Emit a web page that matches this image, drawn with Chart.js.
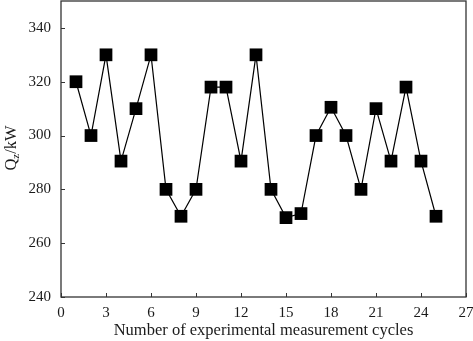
<!DOCTYPE html>
<html>
<head>
<meta charset="utf-8">
<script src="https://cdn.jsdelivr.net/npm/chart.js@4/dist/chart.umd.min.js"></script>
<style>
  html, body { margin: 0; padding: 0; background: #fff; }
  #wrap { width: 473px; height: 341px; }
</style>
</head>
<body>
<div id="wrap"><canvas id="c" width="473" height="341"></canvas></div>
<script>
// donnees
const cycles = [1, 2, 3, 4, 5, 6, 7, 8, 9, 10, 11, 12, 13, 14, 15, 16, 17, 18, 19, 20, 21, 22, 23, 24, 25]
const qz = [320, 300, 330, 290.5, 310, 330, 280, 270, 280, 318, 318, 290.5, 330, 280, 269.5, 271, 300, 310.5, 300, 280, 310, 290.5, 318, 290.5, 270]
const xTicks = [0, 3, 6, 9, 12, 15, 18, 21, 24, 27]
const yTicks = [240, 260, 280, 300, 320, 340]

const serif = "'Liberation Serif', 'DejaVu Serif', serif"
const ink = '#1a1a1a'

// cadre + petites graduations vers l'interieur + titre Y avec indice
const framePlugin = {
  id: 'frame',
  afterDraw(chart) {
    const { ctx, chartArea: a, scales } = chart
    ctx.save()
    ctx.strokeStyle = '#333'
    ctx.lineWidth = 1.3
    ctx.strokeRect(a.left, a.top, a.right - a.left, a.bottom - a.top)
    ctx.lineWidth = 1
    ctx.beginPath()
    xTicks.forEach(v => {
      const px = Math.round(scales.x.getPixelForValue(v)) + 0.5
      ctx.moveTo(px, a.bottom)
      ctx.lineTo(px, a.bottom - 4)
    })
    yTicks.forEach(v => {
      const py = Math.round(scales.y.getPixelForValue(v)) + 0.5
      ctx.moveTo(a.left, py)
      ctx.lineTo(a.left + 4, py)
    })
    ctx.stroke()

    // titre de l'axe Y : Q indice z / kW
    ctx.fillStyle = ink
    ctx.translate(16, 148)
    ctx.rotate(-Math.PI / 2)
    ctx.textBaseline = 'alphabetic'
    ctx.font = '16.5px ' + serif
    const wQ = ctx.measureText('Q').width
    ctx.font = '11px ' + serif
    const wz = ctx.measureText('z').width
    ctx.font = '16.5px ' + serif
    const wRest = ctx.measureText('/kW').width
    let x0 = -(wQ + wz + wRest) / 2
    ctx.fillText('Q', x0, 0)
    ctx.font = '11px ' + serif
    ctx.fillText('z', x0 + wQ, 3)
    ctx.font = '16.5px ' + serif
    ctx.fillText('/kW', x0 + wQ + wz, 0)
    ctx.restore()
  }
}

new Chart(document.getElementById('c'), {
  type: 'line',
  data: {
    datasets: [{
      data: cycles.map((c, i) => ({ x: c, y: qz[i] })),
      borderColor: '#000',
      borderWidth: 1.2,
      pointStyle: 'rect',
      pointRadius: 9,
      pointBackgroundColor: '#000',
      pointBorderColor: '#000',
      pointBorderWidth: 0,
      tension: 0
    }]
  },
  options: {
    responsive: false,
    animation: false,
    layout: { autoPadding: false, padding: { top: 1, right: 7, left: 0, bottom: 0 } },
    plugins: { legend: { display: false }, tooltip: { enabled: false } },
    scales: {
      x: {
        type: 'linear',
        min: 0,
        max: 27,
        afterBuildTicks: s => { s.ticks = xTicks.map(v => ({ value: v })) },
        afterFit: s => { s.height = 44; s.paddingLeft = 0; s.paddingRight = 0 },
        grid: { display: false, drawTicks: false },
        border: { display: false },
        ticks: { color: ink, padding: 7, font: { family: serif, size: 15 }, maxRotation: 0 },
        title: {
          display: true,
          text: 'Number of experimental measurement cycles',
          color: ink,
          font: { family: serif, size: 16.5 },
          padding: { top: 0, bottom: 0 }
        }
      },
      y: {
        min: 240,
        max: 350,
        afterBuildTicks: s => { s.ticks = yTicks.map(v => ({ value: v })) },
        afterFit: s => { s.width = 61; s.paddingTop = 0; s.paddingBottom = 0 },
        grid: { display: false, drawTicks: false },
        border: { display: false },
        ticks: { color: ink, padding: 10, font: { family: serif, size: 15 } }
      }
    }
  },
  plugins: [framePlugin]
})
</script>
</body>
</html>
